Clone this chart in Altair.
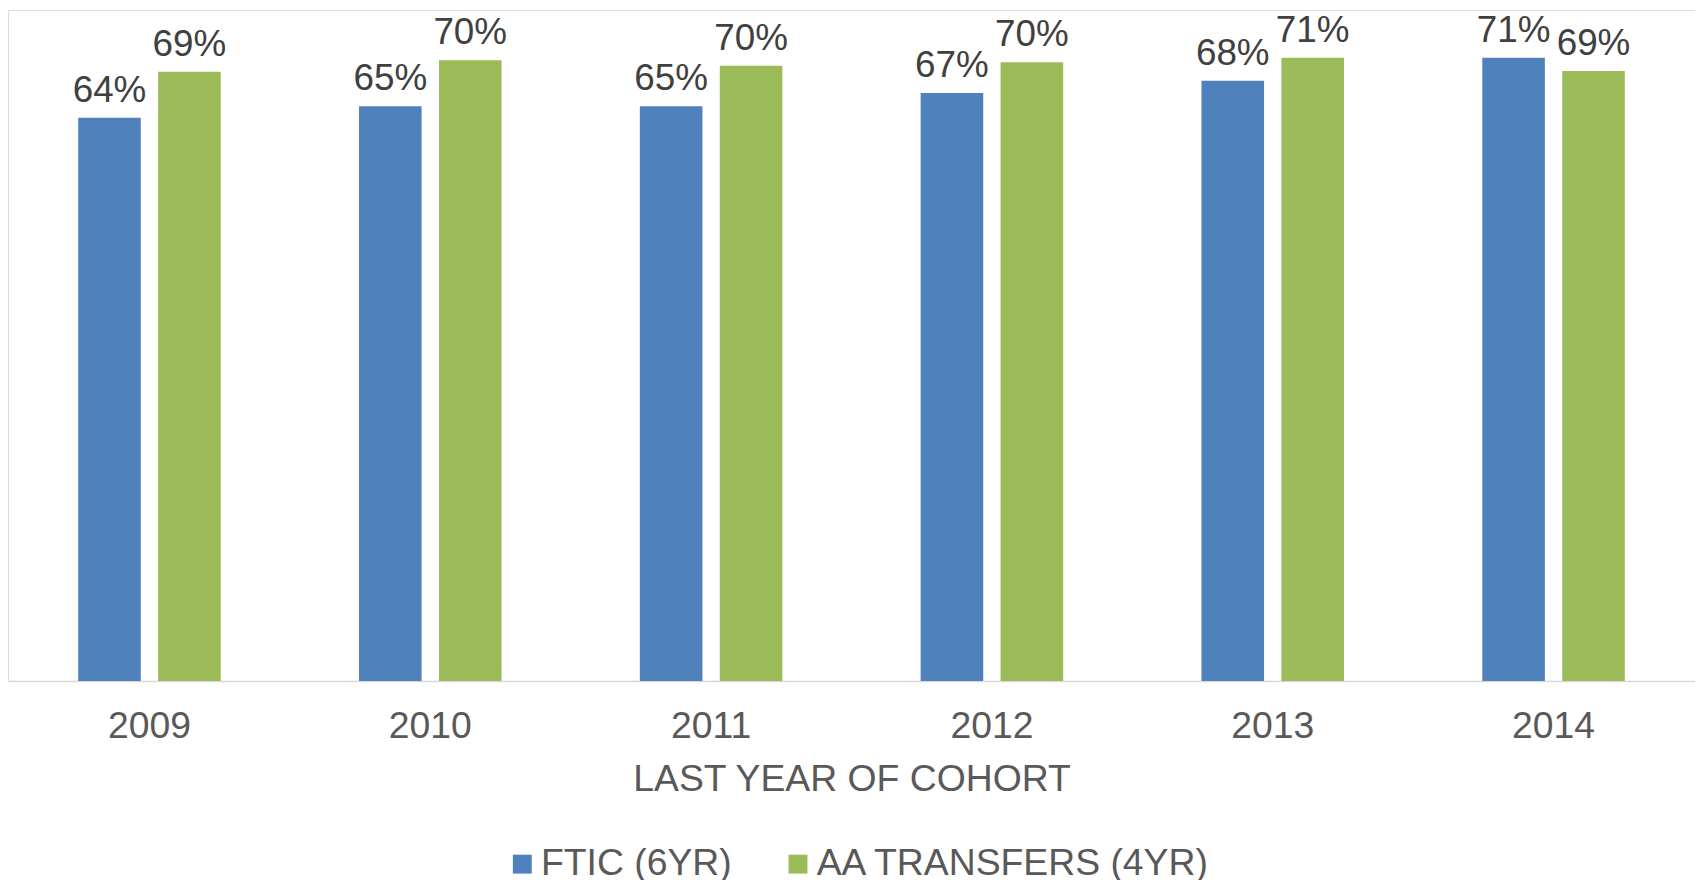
import altair as alt
import pandas as pd

years = ["2009", "2010", "2011", "2012", "2013", "2014"]
series = ["FTIC (6YR)", "AA TRANSFERS (4YR)"]
ftic = [0.638, 0.651, 0.651, 0.666, 0.680, 0.706]
aa = [0.690, 0.703, 0.697, 0.701, 0.706, 0.691]
colors = ["#4F81BD", "#9BBB59"]

rows = []
for i, yr in enumerate(years):
    rows.append({"year": yr, "series": series[0], "value": ftic[i]})
    rows.append({"year": yr, "series": series[1], "value": aa[i]})
df = pd.DataFrame(rows)

FONT = "Liberation Sans"
FS = 37.5

x = alt.X(
    "year:N",
    sort=years,
    title="LAST YEAR OF COHORT",
    scale=alt.Scale(paddingInner=0.4925, paddingOuter=0.25),
    axis=alt.Axis(
        labelAngle=0,
        labelFontSize=FS,
        labelColor="#595959",
        labelFont=FONT,
        labelPadding=27,
        ticks=False,
        domainColor="#D9D9D9",
        domainWidth=1.5,
        titleFontSize=FS,
        titleFont=FONT,
        titleColor="#595959",
        titleFontWeight="normal",
        titlePadding=16,
    ),
)
xo = alt.XOffset("series:N", sort=series, scale=alt.Scale(paddingInner=0.217, paddingOuter=0))
y = alt.Y("value:Q", scale=alt.Scale(domain=[0, 0.76], nice=False, zero=True), axis=None)
color = alt.Color(
    "series:N",
    sort=series,
    scale=alt.Scale(domain=series, range=colors),
    legend=alt.Legend(
        title=None,
        orient="none",
        legendX=498,
        legendY=839,
        direction="horizontal",
        symbolType="square",
        symbolSize=361,
        symbolStrokeWidth=0,
        labelFontSize=FS,
        labelFont=FONT,
        labelColor="#595959",
        labelOffset=0,
        labelLimit=0,
        columnPadding=47,
    ),
)

base = alt.Chart(df)
bars = base.mark_bar().encode(x=x, xOffset=xo, y=y, color=color)
labels = base.mark_text(
    dy=-16, baseline="alphabetic", fontSize=37, font=FONT, color="#404040"
).encode(x=x, xOffset=xo, y=y, text=alt.Text("value:Q", format=".0%"))

chart = (
    alt.layer(bars, labels)
    .properties(
        width=1695,
        height=674,
        padding={"top": 0, "left": 0, "right": 0, "bottom": 200},
        autosize=alt.AutoSizeParams(type="none"),
    )
    .configure_view(stroke=None)
    .configure(background="white")
)

chart.save("out.html", embed_options={"renderer": "svg", "actions": False})
